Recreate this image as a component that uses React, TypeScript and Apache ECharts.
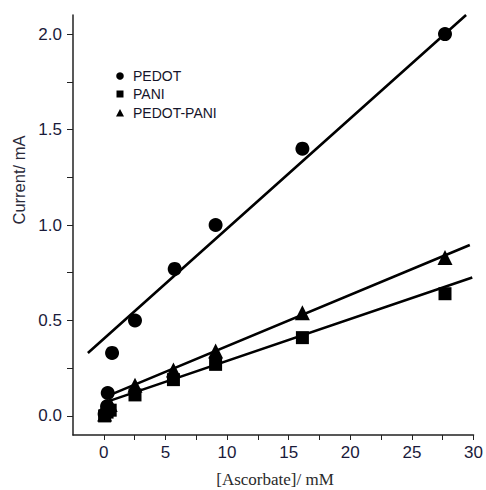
import React, { useEffect, useRef } from "react";
import * as echarts from "echarts";

const pedotX = [0.05, 0.25, 0.3, 0.65, 2.5, 5.7, 9, 16, 27.5];
const pedotY = [0.01, 0.05, 0.12, 0.33, 0.5, 0.77, 1.0, 1.4, 2.0];
const paniX = [0.05, 0.25, 0.5, 2.5, 5.6, 9, 16, 27.5];
const paniY = [0.0, 0.02, 0.03, 0.11, 0.19, 0.27, 0.41, 0.64];
const pedotPaniX = [0.05, 0.25, 0.5, 2.5, 5.6, 9, 16, 27.5];
const pedotPaniY = [0.01, 0.04, 0.06, 0.16, 0.24, 0.34, 0.54, 0.83];

// Linear fit lines (end points)
const pedotFitX = [-1.3, 29.2];
const pedotFitY = [0.33, 2.1];
const paniFitX = [0.5, 29.7];
const paniFitY = [0.08, 0.725];
const pedotPaniFitX = [0.5, 29.5];
const pedotPaniFitY = [0.11, 0.895];

// Ticks
const xTicks = [0, 2.5, 5, 7.5, 10, 12.5, 15, 17.5, 20, 22.5, 25, 27.5, 30];
const xLabels = [0, 5, 10, 15, 20, 25, 30];
const yTicks = [0, 0.25, 0.5, 0.75, 1.0, 1.25, 1.5, 1.75, 2.0];
const yLabels = [0, 0.5, 1.0, 1.5, 2.0];
const xMin = -2.5;
const xMax = 30;
const yMin = -0.1;
const yMax = 2.1;

const legendNames = ["PEDOT", "PANI", "PEDOT-PANI"];
const xTitle = "[Ascorbate]/ mM";
const yTitle = "Current/ mA";

const zip = (xs: number[], ys: number[]) => xs.map((x, i) => [x, ys[i]]);

export default function App() {
  const ref = useRef<HTMLDivElement>(null);
  useEffect(() => {
    if (!ref.current) return;
    const chart = echarts.init(ref.current, null, { renderer: "svg" });
    const black = "#000";
    const axisColor = "#222";
    const tickFont = "Liberation Sans, Arial, sans-serif";
    const nameFont = "Liberation Serif, Times New Roman, serif";
    const legendRows = [76, 94, 113];
    const legendText = legendNames.map((n, i) => ({
      type: "text",
      x: 133,
      y: legendRows[i],
      style: {
        text: n,
        font: `14px ${tickFont}`,
        fill: "#15152a",
        textAlign: "left",
        textVerticalAlign: "middle",
      },
    }));
    const gap = ["-", "-"];
    const fitData = [
      ...zip(pedotFitX, pedotFitY),
      gap,
      ...zip(paniFitX, paniFitY),
      gap,
      ...zip(pedotPaniFitX, pedotPaniFitY),
    ];
    const pointData = [
      ...zip(pedotX, pedotY).map((v) => ({ value: v, symbol: "circle", symbolSize: 14 })),
      ...zip(paniX, paniY).map((v) => ({ value: v, symbol: "rect", symbolSize: 13 })),
      ...zip(pedotPaniX, pedotPaniY).map((v) => ({ value: v, symbol: "triangle", symbolSize: 15 })),
    ];
    const gridBox = { left: 73, right: 10, top: 15, bottom: 55 };
    chart.setOption({
      animation: false,
      grid: [gridBox, gridBox],
      graphic: [
        { type: "circle", shape: { cx: 120, cy: legendRows[0], r: 3.8 }, style: { fill: black } },
        { type: "rect", shape: { x: 116.5, y: legendRows[1] - 3.5, width: 7, height: 7 }, style: { fill: black } },
        {
          type: "polygon",
          shape: {
            points: [
              [116, legendRows[2] + 3.5],
              [124, legendRows[2] + 3.5],
              [120, legendRows[2] - 4],
            ],
          },
          style: { fill: black },
        },
        ...legendText,
        {
          type: "text",
          x: 275,
          y: 479,
          style: {
            text: xTitle,
            font: `17px ${nameFont}`,
            fill: "#2a2a2a",
            textAlign: "center",
            textVerticalAlign: "middle",
          },
        },
        {
          type: "text",
          x: 19,
          y: 180,
          rotation: Math.PI / 2,
          style: {
            text: yTitle,
            font: `16.5px ${tickFont}`,
            fill: "#2a2a3a",
            textAlign: "center",
            textVerticalAlign: "middle",
          },
        },
      ],
      xAxis: [
        { type: "value", gridIndex: 0, min: xMin, max: xMax, show: false, splitLine: { show: false } },
        {
          type: "value",
          gridIndex: 1,
          min: xMin,
          max: xMax,
          axisLine: { show: true, onZero: false, lineStyle: { color: axisColor, width: 1.5 } },
          axisTick: { show: true, customValues: xTicks, length: 5, lineStyle: { color: axisColor } },
          axisLabel: { customValues: xLabels, margin: 9, fontFamily: tickFont, fontSize: 17, color: "#1a1a3a" },
          splitLine: { show: false },
        },
      ],
      yAxis: [
        { type: "value", gridIndex: 0, min: yMin, max: yMax, show: false, splitLine: { show: false } },
        {
          type: "value",
          gridIndex: 1,
          min: yMin,
          max: yMax,
          axisLine: { show: true, onZero: false, lineStyle: { color: axisColor, width: 1.5 } },
          axisTick: { show: true, customValues: yTicks, length: 6, lineStyle: { color: axisColor } },
          axisLabel: {
            customValues: yLabels,
            margin: 11,
            fontFamily: tickFont,
            fontSize: 17,
            color: "#1a1a3a",
            formatter: (v: number) => v.toFixed(1),
          },
          splitLine: { show: false },
        },
      ],
      series: [
        {
          name: "Linear fits",
          type: "line",
          xAxisIndex: 0,
          yAxisIndex: 0,
          data: fitData,
          connectNulls: false,
          symbol: "none",
          lineStyle: { color: black, width: 2.6 },
          z: 2,
        },
        {
          name: "PEDOT / PANI / PEDOT-PANI",
          type: "scatter",
          xAxisIndex: 0,
          yAxisIndex: 0,
          itemStyle: { color: black, opacity: 1 },
          data: pointData,
          z: 3,
        },
      ],
    });
    return () => chart.dispose();
  }, []);
  return (
    <div
      ref={ref}
      style={{ position: "fixed", left: 0, top: 0, width: 486, height: 490, background: "#fff" }}
    />
  );
}
